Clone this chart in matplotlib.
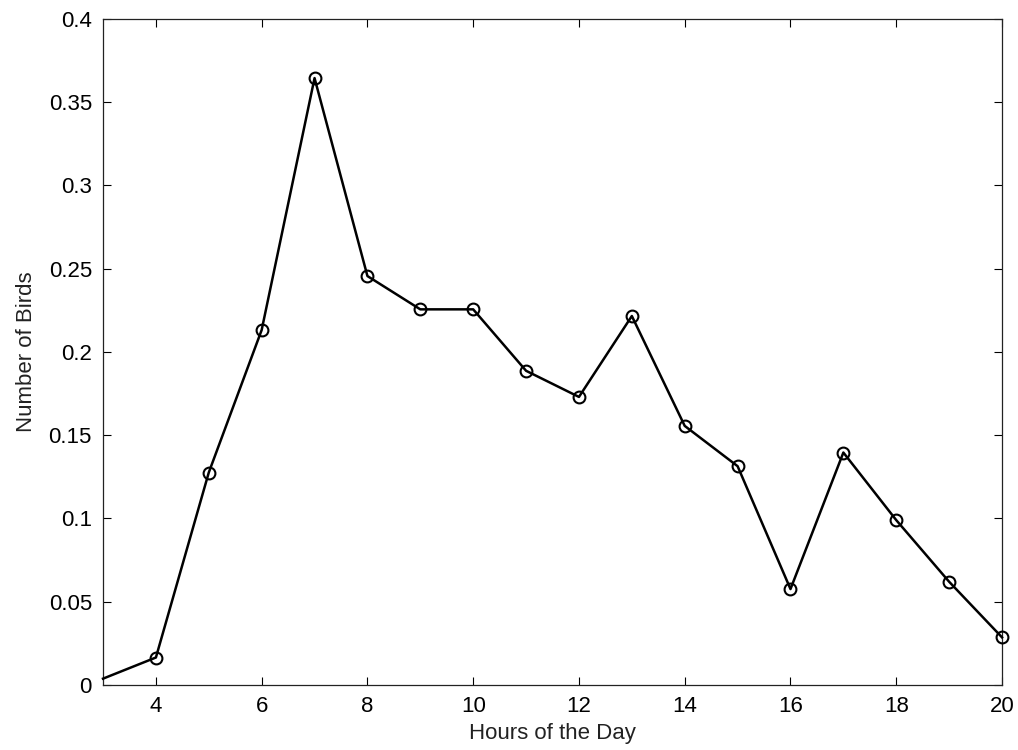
import matplotlib
matplotlib.use('Agg')
from matplotlib import pyplot as plt

# hours of the day and values
hours = [3, 4, 5, 6, 7, 8, 9, 10, 11, 12, 13, 14, 15, 16, 17, 18, 19, 20]
birds = [0.0038, 0.0165, 0.1276, 0.2132, 0.3645, 0.2456, 0.2256, 0.2256, 0.1887,
         0.1730, 0.2216, 0.1556, 0.1314, 0.0576, 0.1396, 0.0990, 0.0620, 0.0286]
x_ticks = [4, 6, 8, 10, 12, 14, 16, 18, 20]
y_ticks = [0, 0.05, 0.1, 0.15, 0.2, 0.25, 0.3, 0.35, 0.4]
y_tick_labels = ['0', '0.05', '0.1', '0.15', '0.2', '0.25', '0.3', '0.35', '0.4']

plt.rcParams['font.family'] = ['Liberation Sans', 'DejaVu Sans']

fig = plt.figure(figsize=(10.18, 7.5), dpi=100)
ax = fig.add_axes([0.1012, 0.0867, 0.8831, 0.888])

# first point sits on the left edge and has no marker in the original
ax.plot(hours, birds, color='black', linewidth=1.8,
        marker='o', markersize=8.5, markerfacecolor='none',
        markeredgecolor='black', markeredgewidth=1.5,
        markevery=slice(1, None), clip_on=False, zorder=3)

ax.set_xlim(3, 20)
ax.set_ylim(0, 0.4)
ax.set_xticks(x_ticks)
ax.set_yticks(y_ticks)
ax.set_yticklabels(y_tick_labels)

ax.tick_params(direction='in', length=6, width=0.8, top=True, right=True,
               labelsize=16, pad=8, colors='black')
for side in ax.spines.values():
    side.set_linewidth(0.9)
    side.set_color('#222222')

ax.set_xlabel('Hours of the Day', fontsize=16, color='#222222', labelpad=4)
ax.set_ylabel('Number of Birds', fontsize=16, color='#222222', labelpad=8)

fig.savefig('out.png', dpi=100, facecolor='white')
